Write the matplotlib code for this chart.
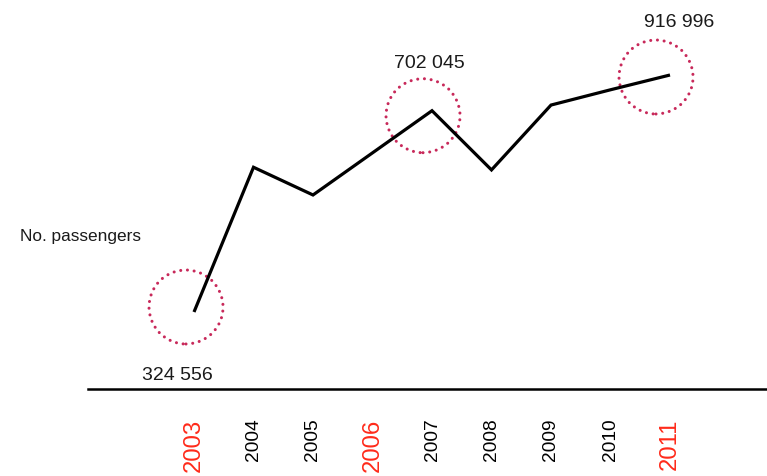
import numpy as np
import matplotlib
matplotlib.use("Agg")
import matplotlib.pyplot as plt
from matplotlib.patches import Circle
from matplotlib import transforms

# ---------------- data ----------------
years = [2003, 2004, 2005, 2006, 2007, 2008, 2009, 2010, 2011]
passengers = [324556, 596000, 544000, 623000, 702045, 591000, 736000, 828000, 916996]
highlight_years = [2003, 2006, 2011]
annot_years = [2003, 2007, 2011]
annot_labels = ["324 556", "702 045", "916 996"]
y_label = "No. passengers"

# ---------------- styling ----------------
W, H, DPI = 767, 477, 100
AX_LEFT_PX, AX_BOTTOM_PX = 88, 390
FONT = "Liberation Sans"
CIRCLE_COLOR = "#c8295a"
RED = "#ff2a1a"
TEXT = "#1a1a1a"

# non-linear (infographic) vertical scale: values -> pixel height above axis
sc_v = np.array([324556.0, 702045.0, 916996.0])
sc_h = np.array([77.0, 278.3, 314.0])


def _pw(x, xs, ys):
    x = np.asarray(x, dtype=float)
    out = np.interp(x, xs, ys)
    s0 = (ys[1] - ys[0]) / (xs[1] - xs[0])
    s1 = (ys[-1] - ys[-2]) / (xs[-1] - xs[-2])
    out = np.where(x < xs[0], ys[0] + (x - xs[0]) * s0, out)
    out = np.where(x > xs[-1], ys[-1] + (x - xs[-1]) * s1, out)
    return out


def fwd(v):
    return _pw(v, sc_v, sc_h)


def inv(h):
    return _pw(h, sc_h, sc_v)


fig = plt.figure(figsize=(W / DPI, H / DPI), dpi=DPI)
fig.patch.set_facecolor("white")
ax = fig.add_axes([AX_LEFT_PX / W, (H - AX_BOTTOM_PX) / H,
                   1 - AX_LEFT_PX / W, AX_BOTTOM_PX / H])
ax.set_facecolor("none")

ax.set_yscale("function", functions=(fwd, inv))
ax.set_ylim(float(inv(0.0)), float(inv(AX_BOTTOM_PX)))
px_per_year = 59.5
x2003_px = 194
ax.set_xlim(2003 - (x2003_px - AX_LEFT_PX) / px_per_year,
            2003 + (W - x2003_px) / px_per_year)

ax.plot(years, passengers, color="black", lw=2.3, solid_joinstyle="miter",
        solid_capstyle="butt", zorder=3)

for s in ("top", "left", "right"):
    ax.spines[s].set_visible(False)
ax.spines["bottom"].set_linewidth(1.8)
ax.spines["bottom"].set_color("black")
ax.set_yticks([])
ax.set_xticks(years)
ax.set_xticklabels([str(y) for y in years], rotation=90,
                   fontdict={"family": FONT})
ax.tick_params(axis="x", length=0, pad=20.5)
for lab, yr in zip(ax.get_xticklabels(), years):
    lab.set_fontfamily(FONT)
    if yr in highlight_years:
        lab.set_color(RED)
        lab.set_fontsize(17.2)
    else:
        lab.set_color("black")
        lab.set_fontsize(13.8)
    lab.set_va("top")

# dotted circles + value labels around highlighted points
circ_off_px = {2003: (-8, 5), 2007: (-9, -5), 2011: (-14, -2)}
text_off_px = {2003: (-17, -67), 2007: (-3, 44), 2011: (9, 49)}
val_of = dict(zip(years, passengers))
for yr, txt in zip(annot_years, annot_labels):
    v = val_of[yr]
    tr = fig.dpi_scale_trans + transforms.ScaledTranslation(yr, v, ax.transData)
    cdx, cdy = circ_off_px[yr]
    c = Circle((cdx / DPI, cdy / DPI), radius=0.37, transform=tr, fill=False,
               edgecolor=CIRCLE_COLOR, lw=2.2, linestyle=(0, (0.01, 2.2)),
               capstyle="round", clip_on=False, zorder=2)
    ax.add_patch(c)
    tdx, tdy = text_off_px[yr]
    ax.annotate(txt, xy=(yr, v), xytext=(tdx * 0.72, tdy * 0.72),
                textcoords="offset points", ha="center", va="baseline",
                fontsize=14, family=FONT, color=TEXT,
                annotation_clip=False)

fig.text(20 / W, 1 - 241 / H, y_label, ha="left", va="baseline",
         fontsize=12.4, family=FONT, color=TEXT)

fig.savefig("out.png", dpi=DPI, facecolor="white")
